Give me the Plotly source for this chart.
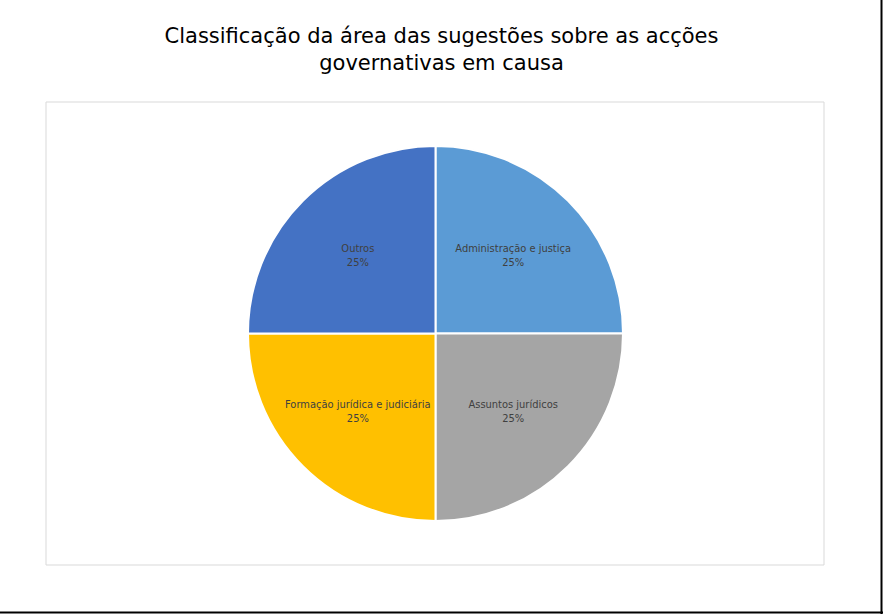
import plotly.graph_objects as go

# chart data
categories = ["Administração e justiça", "Assuntos jurídicos",
              "Formação jurídica e judiciária", "Outros"]
values = [25, 25, 25, 25]
colors = ["#5B9BD5", "#A5A5A5", "#FFC000", "#4472C4"]

W, H = 883, 614

fig = go.Figure()

fig.add_trace(go.Pie(
    labels=categories,
    values=values,
    sort=False,
    direction="clockwise",
    rotation=0,
    marker=dict(colors=colors, line=dict(color="white", width=2)),
    texttemplate="%{label}<br>%{percent:.0%}",
    textposition="inside",
    insidetextorientation="horizontal",
    textfont=dict(family="DejaVu Sans Condensed", size=11, color="#404040"),
    hoverinfo="label+percent",
    domain=dict(x=[248 / W, 623 / W], y=[(H - 521) / H, (H - 146) / H]),
    showlegend=False,
))

fig.update_layout(
    width=W,
    height=H,
    margin=dict(l=0, r=0, t=0, b=0),
    paper_bgcolor="white",
    plot_bgcolor="white",
    title=dict(
        text="Classificação da área das sugestões sobre as acções<br>governativas em causa",
        x=0.5, xanchor="center",
        y=1 - 43 / H, yanchor="top",
        font=dict(family="DejaVu Sans", size=21, color="#000000"),
    ),
    shapes=[
        # chart area frame
        dict(type="rect", xref="paper", yref="paper",
             x0=46 / W, x1=824 / W, y0=1 - 565 / H, y1=1 - 102 / H,
             line=dict(color="#D9D9D9", width=1), layer="below"),
        # outer border (right and bottom)
        dict(type="line", xref="paper", yref="paper",
             x0=881.5 / W, x1=881.5 / W, y0=0, y1=1,
             line=dict(color="black", width=2)),
        dict(type="line", xref="paper", yref="paper",
             x0=0, x1=1, y0=1 - 612.5 / H, y1=1 - 612.5 / H,
             line=dict(color="black", width=2)),
    ],
)

fig.write_html("out.html", config={"displayModeBar": False},
               post_script="document.body.style.margin='0';")
